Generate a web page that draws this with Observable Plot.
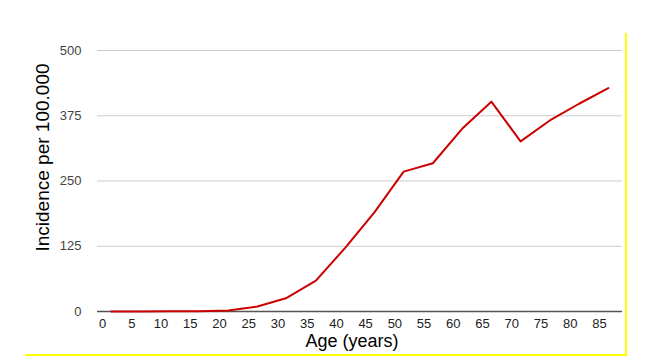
<!DOCTYPE html>
<html>
<head>
<meta charset="utf-8">
<script src="https://cdn.jsdelivr.net/npm/d3@7"></script>
<script src="https://cdn.jsdelivr.net/npm/@observablehq/plot@0.6"></script>
<style>
  html, body { margin: 0; padding: 0; background: #fff; }
  #wrap { position: relative; width: 646px; height: 364px; font-family: "Liberation Sans", Arial, sans-serif; }
  .yl { position: absolute; background: #ffff00; }
</style>
</head>
<body>
<div id="wrap"></div>
<script>
const ages = [1.5, 6.5, 11.5, 16.5, 21.5, 26.5, 31.5, 36.5, 41.5, 46.5, 51.5, 56.5, 61.5, 66.5, 71.5, 76.5, 81.5, 86.5];
const incidence = [0.2, 0.2, 0.3, 0.5, 2, 9.6, 26, 59, 122, 190, 268, 284, 350, 402, 326, 366, 398, 428];
const xTicks = [0, 5, 10, 15, 20, 25, 30, 35, 40, 45, 50, 55, 60, 65, 70, 75, 80, 85];
const yTicks = [0, 125, 250, 375, 500];

const data = ages.map((a, i) => ({age: a, value: incidence[i]}));

const chart = Plot.plot({
  width: 646,
  height: 364,
  marginLeft: 97,
  marginRight: 24,
  marginTop: 50,
  marginBottom: 53,
  style: {fontFamily: "'Liberation Sans', Arial, sans-serif", fontSize: "13px", background: "transparent"},
  x: {domain: [-0.855, 88.93], ticks: xTicks, tickSize: 0, tickPadding: 7, label: null},
  y: {domain: [0, 500], ticks: yTicks, tickSize: 0, tickPadding: 16, label: null},
  marks: [
    Plot.gridY(yTicks, {stroke: "#cccccc", strokeOpacity: 1, strokeWidth: 1}),
    Plot.axisY(yTicks, {tickSize: 0, tickPadding: 16, fill: "#444", fontSize: 13}),
    Plot.axisX(xTicks, {tickSize: 0, tickPadding: 7, fill: "#222", fontSize: 13}),
    Plot.ruleY([0], {stroke: "#555", strokeWidth: 1.5}),
    Plot.line(data, {x: "age", y: "value", stroke: "#cc0000", strokeWidth: 2}),
    Plot.text(["Age (years)"], {frameAnchor: "bottom", lineAnchor: "middle", dx: -8, dy: 30, fontSize: 18, fill: "#000"}),
    Plot.text(["Incidence per 100.000"], {frameAnchor: "left", textAnchor: "middle", lineAnchor: "middle", dx: -55, dy: -23.5, rotate: -90, fontSize: 19, fill: "#000"})
  ]
});

const wrap = document.getElementById("wrap");
chart.style.position = "absolute";
chart.style.left = "0";
chart.style.top = "0";
wrap.appendChild(chart);

const v = document.createElement("div");
v.className = "yl";
Object.assign(v.style, {left: "625px", top: "33px", width: "2px", height: "323px"});
wrap.appendChild(v);
const h = document.createElement("div");
h.className = "yl";
Object.assign(h.style, {left: "25px", top: "354px", width: "602px", height: "2px"});
wrap.appendChild(h);
</script>
</body>
</html>
